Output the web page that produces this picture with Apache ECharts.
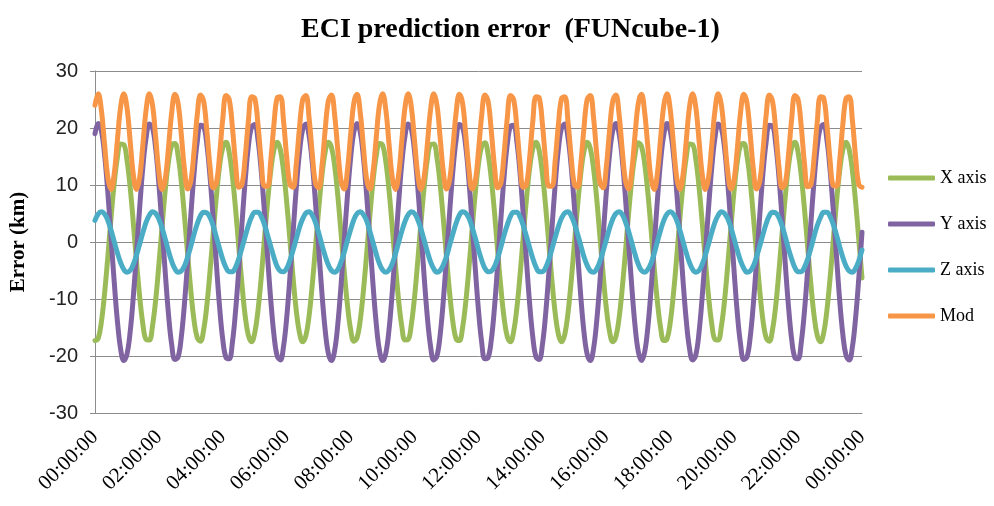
<!DOCTYPE html>
<html>
<head>
<meta charset="utf-8">
<script src="https://cdn.jsdelivr.net/npm/echarts@6/dist/echarts.min.js"></script>
<style>
  html, body { margin: 0; padding: 0; background: #fff; }
  #chart { width: 994px; height: 506px; }
</style>
</head>
<body>
<div id="chart"></div>
<script>
// samples every 6 minutes over one day (0 .. 1440 min)
const STEP_MIN = 6;

const tickLabels = ['00:00:00', '02:00:00', '04:00:00', '06:00:00', '08:00:00', '10:00:00', '12:00:00',
    '14:00:00', '16:00:00', '18:00:00', '20:00:00', '22:00:00', '00:00:00'];

const seriesNames = ['X axis', 'Y axis', 'Z axis', 'Mod'];

const xAxisErr = [
    -17.3, -16.9, -14.0, -9.0, -2.7, 4.1, 10.2, 14.8, 17.2, 17.1, 14.4, 9.6, 3.3, -3.5, -9.7, -14.5,
    -17.1, -17.2, -14.7, -10.1, -3.9, 2.8, 9.2, 14.1, 17.0, 17.3, 15.1, 10.6, 4.5, -2.2, -8.6, -13.8,
    -16.8, -17.4, -15.4, -11.1, -5.1, 1.6, 8.1, 13.4, 16.6, 17.5, 15.7, 11.5, 5.7, -1.0, -7.5, -13.0,
    -16.4, -17.5, -15.9, -12.0, -6.3, 0.4, 7.0, 12.5, 16.2, 17.5, 16.2, 12.4, 6.9, 0.3, -6.4, -12.1,
    -16.0, -17.5, -16.4, -12.9, -7.4, -0.9, 5.8, 11.6, 15.7, 17.5, 16.6, 13.3, 8.0, 1.5, -5.2, -11.1,
    -15.4, -17.4, -16.8, -13.7, -8.5, -2.1, 4.6, 10.7, 15.1, 17.3, 17.0, 14.1, 9.1, 2.7, -4.0, -10.2,
    -14.8, -17.2, -17.1, -14.4, -9.6, -3.3, 3.4, 9.6, 14.5, 17.1, 17.2, 14.8, 10.1, 4.0, -2.8, -9.1,
    -14.1, -17.0, -17.3, -15.1, -10.6, -4.6, 2.2, 8.6, 13.7, 16.8, 17.4, 15.4, 11.1, 5.2, -1.6, -8.0,
    -13.3, -16.6, -17.5, -15.7, -11.6, -5.8, 0.9, 7.5, 12.9, 16.4, 17.5, 16.0, 12.0, 6.3, -0.3, -6.9,
    -12.5, -16.2, -17.5, -16.2, -12.5, -6.9, -0.3, 6.3, 12.0, 15.9, 17.5, 16.4, 12.9, 7.5, 0.9, -5.7,
    -11.6, -15.7, -17.5, -16.6, -13.3, -8.0, -1.6, 5.2, 11.1, 15.4, 17.4, 16.8, 13.7, 8.6, 2.2, -4.6,
    -10.6, -15.1, -17.3, -17.0, -14.1, -9.1, -2.8, 4.0, 10.1, 14.8, 17.2, 17.1, 14.5, 9.7, 3.4, -3.3,
    -9.6, -14.4, -17.1, -17.2, -14.8, -10.2, -4.0, 2.7, 9.1, 14.1, 17.0, 17.3, 15.1, 10.7, 4.6, -2.1,
    -8.5, -13.7, -16.8, -17.4, -15.4, -11.2, -5.2, 1.5, 8.0, 13.3, 16.6, 17.5, 15.7, 11.6, 5.8, -0.9,
    -7.4, -12.9, -16.4, -17.5, -16.0, -12.1, -6.4, 0.2, 6.9, 12.4, 16.2, 17.5, 16.2, 12.5, 7.0, 0.4,
    -6.3
];

const yAxisErr = [
    19.0, 20.8, 19.5, 15.3, 8.8, 1.0, -6.9, -13.8, -18.7, -20.8, -19.7, -15.8, -9.5, -1.8, 6.2, 13.3,
    18.3, 20.7, 20.0, 16.3, 10.1, 2.5, -5.5, -12.7, -18.0, -20.6, -20.2, -16.7, -10.8, -3.3, 4.8, 12.1,
    17.6, 20.5, 20.3, 17.1, 11.4, 4.0, -4.0, -11.5, -17.2, -20.3, -20.5, -17.6, -12.0, -4.7, 3.3, 10.8,
    16.8, 20.2, 20.6, 17.9, 12.6, 5.4, -2.6, -10.2, -16.3, -20.0, -20.7, -18.3, -13.2, -6.1, 1.8, 9.6,
    15.8, 19.8, 20.7, 18.6, 13.8, 6.8, -1.1, -8.9, -15.3, -19.5, -20.8, -19.0, -14.3, -7.5, 0.4, 8.2,
    14.8, 19.3, 20.8, 19.3, 14.8, 8.2, 0.4, -7.5, -14.3, -19.0, -20.8, -19.5, -15.4, -8.9, -1.1, 6.8,
    13.8, 18.6, 20.7, 19.8, 15.8, 9.6, 1.9, -6.1, -13.2, -18.3, -20.7, -20.0, -16.3, -10.2, -2.6, 5.4,
    12.6, 17.9, 20.6, 20.2, 16.8, 10.8, 3.3, -4.7, -12.0, -17.6, -20.5, -20.3, -17.2, -11.5, -4.0, 4.0,
    11.4, 17.1, 20.3, 20.5, 17.6, 12.1, 4.8, -3.2, -10.8, -16.7, -20.2, -20.6, -18.0, -12.7, -5.5, 2.5,
    10.1, 16.3, 20.0, 20.7, 18.3, 13.3, 6.2, -1.8, -9.5, -15.8, -19.7, -20.8, -18.7, -13.8, -6.9, 1.0,
    8.8, 15.3, 19.5, 20.8, 19.0, 14.4, 7.6, -0.3, -8.1, -14.8, -19.2, -20.8, -19.3, -14.9, -8.3, -0.4,
    7.5, 14.3, 18.9, 20.8, 19.5, 15.4, 9.0, 1.2, -6.8, -13.7, -18.6, -20.7, -19.8, -15.9, -9.6, -1.9,
    6.1, 13.1, 18.3, 20.7, 20.0, 16.4, 10.3, 2.7, -5.3, -12.6, -17.9, -20.6, -20.2, -16.8, -10.9, -3.4,
    4.6, 12.0, 17.5, 20.5, 20.4, 17.2, 11.5, 4.1, -3.9, -11.3, -17.1, -20.3, -20.5, -17.6, -12.1, -4.8,
    3.2, 10.7, 16.7, 20.1, 20.6, 18.0, 12.7, 5.6, -2.4, -10.1, -16.2, -19.9, -20.7, -18.4, -13.3, -6.3,
    1.7
];

const zAxisErr = [
    3.8, 4.9, 5.3, 4.9, 3.8, 2.1, 0.1, -1.9, -3.6, -4.8, -5.3, -5.0, -3.9, -2.3, -0.3, 1.7,
    3.5, 4.7, 5.3, 5.0, 4.0, 2.4, 0.5, -1.6, -3.4, -4.7, -5.3, -5.1, -4.2, -2.6, -0.7, 1.4,
    3.2, 4.6, 5.2, 5.1, 4.3, 2.8, 0.8, -1.2, -3.1, -4.5, -5.2, -5.2, -4.4, -2.9, -1.0, 1.0,
    2.9, 4.4, 5.2, 5.2, 4.5, 3.1, 1.2, -0.8, -2.7, -4.3, -5.1, -5.2, -4.6, -3.2, -1.4, 0.6,
    2.6, 4.1, 5.1, 5.3, 4.7, 3.4, 1.6, -0.5, -2.4, -4.0, -5.0, -5.3, -4.8, -3.5, -1.8, 0.3,
    2.2, 3.9, 5.0, 5.3, 4.8, 3.7, 1.9, -0.1, -2.1, -3.8, -4.9, -5.3, -4.9, -3.8, -2.1, -0.1,
    1.9, 3.6, 4.8, 5.3, 5.0, 3.9, 2.3, 0.3, -1.7, -3.5, -4.7, -5.3, -5.0, -4.0, -2.5, -0.5,
    1.5, 3.3, 4.7, 5.3, 5.1, 4.2, 2.6, 0.7, -1.4, -3.2, -4.6, -5.2, -5.1, -4.3, -2.8, -0.9,
    1.2, 3.0, 4.5, 5.2, 5.2, 4.4, 2.9, 1.0, -1.0, -2.9, -4.4, -5.2, -5.2, -4.5, -3.1, -1.2,
    0.8, 2.7, 4.2, 5.1, 5.3, 4.6, 3.2, 1.4, -0.6, -2.6, -4.1, -5.1, -5.3, -4.7, -3.4, -1.6,
    0.4, 2.4, 4.0, 5.0, 5.3, 4.8, 3.5, 1.8, -0.2, -2.2, -3.9, -5.0, -5.3, -4.8, -3.7, -2.0,
    0.1, 2.1, 3.8, 4.9, 5.3, 4.9, 3.8, 2.1, 0.1, -1.9, -3.6, -4.8, -5.3, -5.0, -3.9, -2.3,
    -0.3, 1.7, 3.5, 4.7, 5.3, 5.0, 4.1, 2.5, 0.5, -1.5, -3.3, -4.6, -5.3, -5.1, -4.2, -2.6,
    -0.7, 1.3, 3.2, 4.6, 5.2, 5.1, 4.3, 2.8, 0.9, -1.2, -3.0, -4.5, -5.2, -5.2, -4.4, -3.0,
    -1.1, 1.0, 2.9, 4.3, 5.2, 5.2, 4.5, 3.1, 1.3, -0.8, -2.7, -4.2, -5.1, -5.3, -4.6, -3.3,
    -1.4
];

const modErr = [
    24.0, 26.0, 23.1, 17.1, 11.4, 9.2, 11.9, 17.8, 23.6, 26.0, 23.6, 17.7, 11.8, 9.2, 11.4, 17.2,
    23.2, 26.0, 24.0, 18.3, 12.2, 9.2, 11.1, 16.6, 22.7, 25.9, 24.3, 18.9, 12.7, 9.3, 10.7, 16.0,
    22.3, 25.8, 24.7, 19.5, 13.2, 9.5, 10.4, 15.4, 21.7, 25.7, 25.0, 20.1, 13.7, 9.6, 10.1, 14.9,
    21.2, 25.5, 25.2, 20.6, 14.3, 9.8, 9.8, 14.3, 20.7, 25.3, 25.5, 21.2, 14.8, 10.1, 9.6, 13.8,
    20.1, 25.0, 25.7, 21.7, 15.4, 10.3, 9.5, 13.2, 19.5, 24.7, 25.8, 22.2, 16.0, 10.7, 9.3, 12.7,
    18.9, 24.4, 25.9, 22.7, 16.6, 11.0, 9.3, 12.3, 18.3, 24.0, 26.0, 23.2, 17.2, 11.4, 9.2, 11.8,
    17.7, 23.6, 26.0, 23.6, 17.7, 11.8, 9.2, 11.4, 17.2, 23.2, 26.0, 24.0, 18.3, 12.3, 9.3, 11.0,
    16.6, 22.7, 25.9, 24.4, 18.9, 12.8, 9.3, 10.7, 16.0, 22.2, 25.8, 24.7, 19.5, 13.3, 9.5, 10.3,
    15.4, 21.7, 25.7, 25.0, 20.1, 13.8, 9.6, 10.1, 14.8, 21.2, 25.5, 25.3, 20.7, 14.3, 9.8, 9.8,
    14.3, 20.6, 25.2, 25.5, 21.2, 14.9, 10.1, 9.6, 13.7, 20.0, 25.0, 25.7, 21.8, 15.4, 10.4, 9.5,
    13.2, 19.5, 24.7, 25.8, 22.3, 16.0, 10.7, 9.3, 12.7, 18.9, 24.3, 25.9, 22.7, 16.6, 11.1, 9.2,
    12.2, 18.3, 24.0, 26.0, 23.2, 17.2, 11.4, 9.2, 11.8, 17.7, 23.6, 26.0, 23.6, 17.8, 11.9, 9.2,
    11.4, 17.1, 23.1, 26.0, 24.0, 18.4, 12.3, 9.3, 11.0, 16.5, 22.7, 25.9, 24.4, 19.0, 12.8, 9.3,
    10.6, 15.9, 22.2, 25.8, 24.7, 19.6, 13.3, 9.5, 10.3, 15.3, 21.6, 25.7, 25.0, 20.2, 13.8, 9.7,
    10.0, 14.8, 21.1, 25.5, 25.3, 20.7, 14.4, 9.9, 9.8, 14.2, 20.6, 25.2, 25.5, 21.3, 14.9, 10.1,
    9.6
];

const colors = ['#9BBB59', '#8064A2', '#4BACC6', '#F79646'];

const chart = echarts.init(document.getElementById('chart'));

// pair each sample with its minute of the day
const toPoints = arr => arr.map((v, i) => [i * STEP_MIN, v]);

const serifFont = '"Liberation Serif", "DejaVu Serif", serif';
const gridColor = '#8c8c8c';

const option = {
    animation: false,
    backgroundColor: '#fff',
    color: colors,
    title: {
        text: 'ECI prediction error  (FUNcube-1)',
        left: 296,
        top: 11,
        textStyle: {
            fontFamily: serifFont,
            fontWeight: 'bold',
            fontSize: 28,
            color: '#000'
        }
    },
    legend: {
        orient: 'vertical',
        left: 888,
        top: 169,
        padding: 0,
        itemWidth: 47,
        itemHeight: 5,
        itemGap: 28,
        icon: 'roundRect',
        data: seriesNames,
        textStyle: {
            fontFamily: serifFont,
            fontSize: 18,
            color: '#000'
        }
    },
    grid: {
        left: 92,
        right: 132,
        top: 71,
        bottom: 93
    },
    xAxis: {
        type: 'value',
        min: 0,
        max: 1440,
        interval: 120,
        axisLine: { onZero: false, lineStyle: { color: gridColor, width: 1 } },
        axisTick: { show: false },
        splitLine: { show: false },
        axisLabel: {
            rotate: 45,
            margin: 21,
            fontFamily: serifFont,
            fontSize: 21,
            color: '#000',
            formatter: v => tickLabels[Math.round(v / 120)]
        }
    },
    yAxis: {
        type: 'value',
        min: -30,
        max: 30,
        interval: 10,
        name: 'Error (km)',
        nameLocation: 'middle',
        nameRotate: 90,
        nameGap: 66,
        nameTextStyle: {
            fontFamily: serifFont,
            fontWeight: 'bold',
            fontSize: 21,
            color: '#000'
        },
        axisLine: { show: true, lineStyle: { color: gridColor, width: 1 } },
        axisTick: { show: true, length: 5, lineStyle: { color: gridColor } },
        splitLine: { lineStyle: { color: gridColor, width: 1 } },
        axisLabel: {
            margin: 17,
            fontFamily: '"Liberation Sans", Arial, sans-serif',
            fontSize: 20,
            color: '#222'
        }
    },
    series: [xAxisErr, yAxisErr, zAxisErr, modErr].map((arr, i) => ({
        name: seriesNames[i],
        type: 'line',
        data: toPoints(arr),
        showSymbol: false,
        smooth: 0.4,
        lineStyle: { width: 5, cap: 'round', join: 'round' }
    }))
};

chart.setOption(option);
</script>
</body>
</html>
